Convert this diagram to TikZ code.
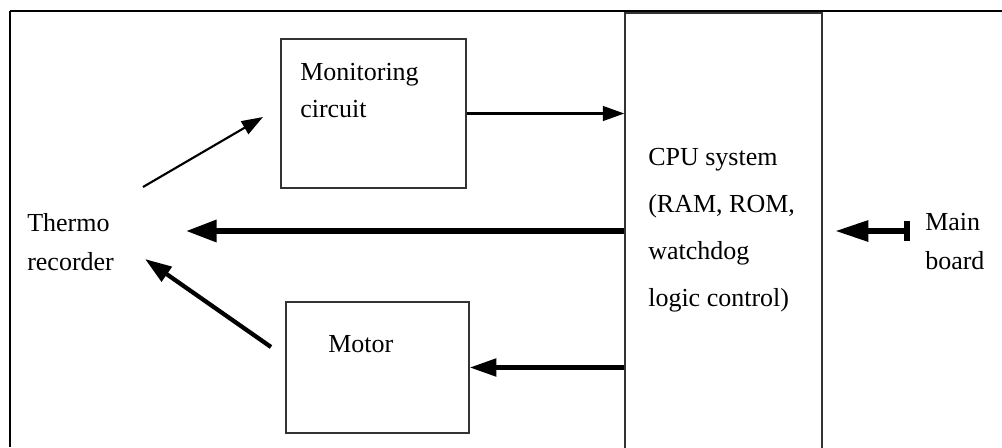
\documentclass[tikz,border=0pt]{standalone}
\usepackage{fontspec}
\setmainfont{Liberation Serif}
\usepackage{tikz}
\usetikzlibrary{arrows.meta}
\usetikzlibrary{positioning}
\usetikzlibrary{calc}

\begin{document}
\begin{tikzpicture}[x=0.75pt,y=0.75pt,yscale=-1,xscale=1,
  box/.style={draw=black!80,line width=1.1pt,inner sep=0},
  txt/.style={anchor=north west,inner sep=0,align=left},
  thinarr/.style={line width=1.6pt,-{Triangle[length=16pt,width=11pt]}},
  midarr/.style={line width=3.2pt,-{Triangle[length=20pt,width=13pt]}},
  bigarr/.style={line width=4.2pt,-{Triangle[length=23pt,width=16pt]}}]
\clip (0,0) rectangle (1002,447);

%Frame
\draw[line width=1.8pt] (10,11) -- (1002,11) ;
\draw[line width=1.6pt] (10,11) -- (10,447) ;

%Boxes
\node[box,minimum width=138.75pt,minimum height=111.75pt] (mon) at (373.5,113.5) {};
\node[box,minimum width=137.25pt,minimum height=98.25pt] (motor) at (377.5,367.5) {};
\node[box,minimum width=147.75pt,minimum height=331.5pt] (cpu) at (723.5,234) {};

% Text Node
\node[txt,font=\fontsize{19.5}{27.75}\selectfont] (montxt) at (300,63) {Monitoring\\circuit};
% Text Node
\node[txt,font=\fontsize{19.5}{27.75}\selectfont] (motortxt) at (328,335) {Motor};
% Text Node
\node[txt,font=\fontsize{19.5}{35.25}\selectfont] (cputxt) at (648,148) {CPU system\\(RAM, ROM,\\watchdog\\logic control)};
% Text Node
\node[txt,font=\fontsize{19.5}{29.25}\selectfont] (thermo) at (27,213) {Thermo\\recorder};
% Text Node
\node[txt,font=\fontsize{19.5}{29.25}\selectfont] (mainb) at (925,213) {Main\\board};

%free ends
\coordinate (tm0) at (143,187);
\coordinate (tm1) at (263,117);
\coordinate (mt0) at (271,347);
\coordinate (mt1) at (145,259);
\coordinate (ct1) at (186,231);
\coordinate (mb0) at (910,231);
\coordinate (mb1) at (835,231);

%Straight Lines
\draw[thinarr] (tm0) -- (tm1) ;
\draw[thinarr] (mon.east) -- (cpu.west |- mon.east) ;
\draw[bigarr] (cpu.west |- ct1) -- (ct1) ;
\draw[midarr] (mt0) -- (mt1) ;
\draw[midarr] (cpu.west |- motor.east) -- (motor.east) ;
\draw[line width=4.5pt,{Triangle[length=25pt,width=15pt]}-{Bar[width=15pt]}] (mb1) -- (mb0) ;

\end{tikzpicture}
\end{document}
